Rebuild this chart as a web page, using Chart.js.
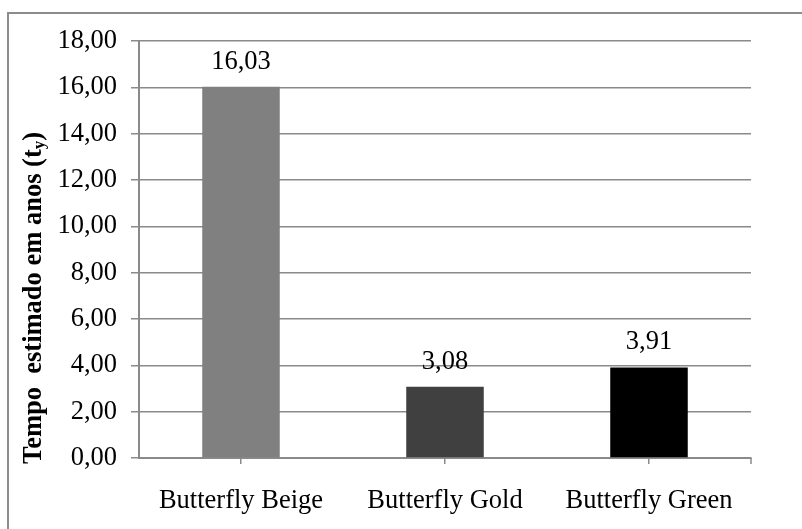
<!DOCTYPE html>
<html>
<head>
<meta charset="utf-8">
<script src="https://cdn.jsdelivr.net/npm/chart.js@4"></script>
<style>
  html, body { margin: 0; padding: 0; background: #fff; }
  #wrap { width: 802px; height: 529px; }
</style>
</head>
<body>
<div id="wrap"><canvas id="chart" width="802" height="529"></canvas></div>
<script>
const categories = ['Butterfly Beige', 'Butterfly Gold', 'Butterfly Green'];
const tempoAnos = [16.03, 3.08, 3.91];
const barColors = ['#808080', '#404040', '#000000'];
const yTicks = [0, 2, 4, 6, 8, 10, 12, 14, 16, 18];

const FONT = '"Liberation Serif", "Times New Roman", serif';
const FS = 26.5;
const gridColor = '#8a8a8a';

const fmt = v => v.toFixed(2).replace('.', ',');

// moldura (so topo e esquerda aparecem)
const frame = {
  id: 'frame',
  beforeDraw(chart) {
    const ctx = chart.ctx;
    ctx.save();
    ctx.strokeStyle = '#8c8c8c';
    ctx.lineWidth = 2;
    ctx.beginPath();
    ctx.moveTo(8, 529);
    ctx.lineTo(8, 13);
    ctx.lineTo(802, 13);
    ctx.stroke();
    ctx.restore();
  }
};

// rotulos de valor em cima das barras
const valueLabels = {
  id: 'valueLabels',
  afterDatasetsDraw(chart) {
    const ctx = chart.ctx;
    const meta = chart.getDatasetMeta(0);
    ctx.save();
    ctx.font = FS + 'px ' + FONT;
    ctx.fillStyle = '#000';
    ctx.textAlign = 'center';
    ctx.textBaseline = 'alphabetic';
    meta.data.forEach((bar, i) => {
      ctx.fillText(fmt(tempoAnos[i]), bar.x, bar.y - 18);
    });
    ctx.restore();
  }
};

// titulo do eixo y com subscrito
const yTitle = {
  id: 'yTitle',
  afterDraw(chart) {
    const ctx = chart.ctx;
    const main = 'Tempo  estimado em anos (t';
    const sub = 'y';
    const end = ')';
    ctx.save();
    ctx.translate(34, 298);
    ctx.rotate(-Math.PI / 2);
    ctx.fillStyle = '#000';
    ctx.textBaseline = 'middle';
    ctx.font = 'bold ' + FS + 'px ' + FONT;
    const w1 = ctx.measureText(main).width;
    const w3 = ctx.measureText(end).width;
    ctx.font = 'bold 17px ' + FONT;
    const w2 = ctx.measureText(sub).width;
    let x = -(w1 + w2 + w3) / 2;
    ctx.font = 'bold ' + FS + 'px ' + FONT;
    ctx.textAlign = 'left';
    ctx.fillText(main, x, 0);
    x += w1;
    ctx.font = 'bold 17px ' + FONT;
    ctx.fillText(sub, x, 6);
    x += w2;
    ctx.font = 'bold ' + FS + 'px ' + FONT;
    ctx.fillText(end, x, 0);
    ctx.restore();
  }
};

// marca final do eixo x
const endTick = {
  id: 'endTick',
  afterDraw(chart) {
    const a = chart.chartArea;
    const ctx = chart.ctx;
    ctx.save();
    ctx.strokeStyle = gridColor;
    ctx.lineWidth = 1.5;
    ctx.beginPath();
    ctx.moveTo(a.right, a.bottom);
    ctx.lineTo(a.right, a.bottom + 6);
    ctx.stroke();
    ctx.restore();
  }
};

new Chart(document.getElementById('chart'), {
  type: 'bar',
  data: {
    labels: categories,
    datasets: [{
      data: tempoAnos,
      backgroundColor: barColors,
      borderWidth: 0,
      barPercentage: 1,
      categoryPercentage: 0.38
    }]
  },
  options: {
    responsive: false,
    animation: false,
    layout: { padding: { top: 41, right: 51, bottom: 0, left: 0 } },
    plugins: {
      legend: { display: false },
      tooltip: { enabled: false }
    },
    scales: {
      x: {
        afterFit(scale) { scale.height = 71; },
        grid: {
          offset: false,
          drawOnChartArea: false,
          color: gridColor,
          lineWidth: 1.5,
          tickLength: 6
        },
        border: { color: gridColor, width: 2 },
        ticks: {
          color: '#000',
          font: { family: FONT, size: FS },
          padding: 21,
          maxRotation: 0
        }
      },
      y: {
        min: 0,
        max: 18,
        afterFit(scale) { scale.width = 139; },
        afterBuildTicks(scale) {
          scale.ticks = yTicks.map(v => ({ value: v }));
        },
        grid: {
          color: gridColor,
          lineWidth: 1.5,
          tickLength: 8
        },
        border: { color: gridColor, width: 2 },
        ticks: {
          color: '#000',
          font: { family: FONT, size: FS },
          padding: 14,
          callback: v => fmt(v)
        }
      }
    }
  },
  plugins: [frame, valueLabels, yTitle, endTick]
});
</script>
</body>
</html>
